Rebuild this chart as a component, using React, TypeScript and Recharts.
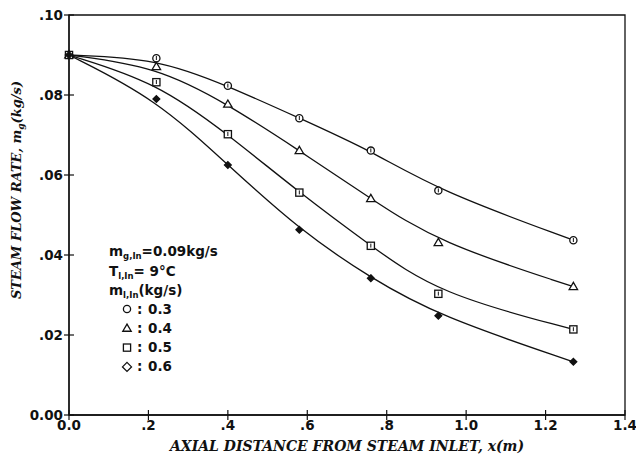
import React from "react";
import { LineChart, Line, XAxis, YAxis, ReferenceArea } from "recharts";

// Axial positions (m) along the condenser, shared by every run
const axialPos = [0, 0.22, 0.4, 0.58, 0.76, 0.93, 1.27];
// Steam flow rate (kg/s) for each liquid inlet flow rate
const steam03 = [0.09, 0.0892, 0.0823, 0.0742, 0.0661, 0.0561, 0.0437];
const steam04 = [0.09, 0.0871, 0.0777, 0.0661, 0.0541, 0.0431, 0.0321];
const steam05 = [0.09, 0.0832, 0.0702, 0.0556, 0.0423, 0.0303, 0.0214];
const steam06 = [0.09, 0.079, 0.0625, 0.0463, 0.0342, 0.0248, 0.0133];

const xTicks = [0, 0.2, 0.4, 0.6, 0.8, 1.0, 1.2, 1.4];
const yTicks = [0, 0.02, 0.04, 0.06, 0.08, 0.1];

const rows = axialPos.map((x, i) => ({
  x,
  s03: steam03[i],
  s04: steam04[i],
  s05: steam05[i],
  s06: steam06[i],
}));

const INK = "#111";
const TICK_FONT = "'DejaVu Sans', sans-serif";
const TITLE_FONT = "'DejaVu Serif', serif";

const fmtX = (v: number) => {
  if (v === 0) return "0.0";
  if (v < 1) return "." + Math.round(v * 10);
  return v.toFixed(1);
};
const fmtY = (v: number) => (v === 0 ? "0.00" : "." + String(Math.round(v * 100)).padStart(2, "0"));

const Y_MARGIN = 6;
const X_MARGIN = 5;

const YTick = (props: any) => {
  const { x, y, payload } = props;
  const ax = x + Y_MARGIN;
  return (
    <g>
      <line x1={ax - 5} x2={ax + 5} y1={y} y2={y} stroke={INK} strokeWidth={1.2} />
      <text x={x} y={y} dy="0.36em" textAnchor="end" fontFamily={TICK_FONT} fontSize={13.5} fontWeight={600} fill={INK}>
        {fmtY(payload.value)}
      </text>
    </g>
  );
};

const XTick = (props: any) => {
  const { x, y, payload } = props;
  const ay = y - X_MARGIN;
  return (
    <g>
      <line x1={x} x2={x} y1={ay - 5} y2={ay + 5} stroke={INK} strokeWidth={1.2} />
      <text x={x} y={y} dy="0.75em" textAnchor="middle" fontFamily={TICK_FONT} fontSize={13.5} fontWeight={600} fill={INK}>
        {fmtX(payload.value)}
      </text>
    </g>
  );
};

type Shape = "circle" | "triangle" | "square" | "diamond";

const Mark = ({ cx, cy, shape, legend }: { cx: number; cy: number; shape: Shape; legend?: boolean }) => {
  const sw = 1.3;
  if (shape === "circle") {
    return (
      <g>
        <circle cx={cx} cy={cy} r={3.6} fill="#fff" stroke={INK} strokeWidth={sw} />
        {!legend && <line x1={cx} x2={cx} y1={cy - 2.2} y2={cy + 1.8} stroke={INK} strokeWidth={1} />}
      </g>
    );
  }
  if (shape === "triangle") {
    const s = 4.2;
    return (
      <polygon
        points={`${cx},${cy - s} ${cx - s},${cy + s * 0.7} ${cx + s},${cy + s * 0.7}`}
        fill="#fff"
        stroke={INK}
        strokeWidth={sw}
      />
    );
  }
  if (shape === "square") {
    const s = 3.6;
    return (
      <g>
        <rect x={cx - s} y={cy - s} width={2 * s} height={2 * s} fill="#fff" stroke={INK} strokeWidth={sw} />
        {!legend && <line x1={cx} x2={cx} y1={cy - 2.2} y2={cy + 1.8} stroke={INK} strokeWidth={1} />}
      </g>
    );
  }
  const s = legend ? 4.5 : 3.4;
  return (
    <polygon
      points={`${cx},${cy - s} ${cx + s},${cy} ${cx},${cy + s} ${cx - s},${cy}`}
      fill={legend ? "#fff" : INK}
      stroke={INK}
      strokeWidth={sw}
    />
  );
};

const dotOf = (shape: Shape) => (p: any) => (
  <Mark key={`${shape}-${p.index}`} cx={p.cx} cy={p.cy} shape={shape} />
);

const series: { key: string; shape: Shape; label: string }[] = [
  { key: "s03", shape: "circle", label: "0.3" },
  { key: "s04", shape: "triangle", label: "0.4" },
  { key: "s05", shape: "square", label: "0.5" },
  { key: "s06", shape: "diamond", label: "0.6" },
];

const legendFont = { fontFamily: TICK_FONT, fontSize: 13.5, fontWeight: 600, fill: INK } as const;

export default function App() {
  return (
    <div style={{ position: "absolute", left: 0, top: 0, width: 636, height: 459, background: "#fff" }}>
      <LineChart width={636} height={459} data={rows} margin={{ top: 15, right: 11, bottom: 0, left: 0 }}>
        <ReferenceArea x1={0} x2={1.4} y1={0} y2={0.1} fill="none" stroke={INK} strokeWidth={1.3} ifOverflow="visible" />
        <XAxis
          dataKey="x"
          type="number"
          domain={[0, 1.4]}
          ticks={xTicks}
          interval={0}
          height={44}
          tickSize={0}
          tickMargin={X_MARGIN}
          tickLine={false}
          axisLine={{ stroke: INK, strokeWidth: 1.3 }}
          tick={<XTick />}
        />
        <YAxis
          type="number"
          domain={[0, 0.1]}
          ticks={yTicks}
          interval={0}
          width={69}
          tickSize={0}
          tickMargin={Y_MARGIN}
          tickLine={false}
          axisLine={{ stroke: INK, strokeWidth: 1.3 }}
          tick={<YTick />}
        />
        {/* smoothed fit curves through the measured points */}
        {series.map((s) => (
          <Line
            key={s.key}
            dataKey={s.key}
            type="basis"
            stroke={INK}
            strokeWidth={1.3}
            dot={dotOf(s.shape)}
            activeDot={false}
            isAnimationActive={false}
          />
        ))}
      </LineChart>
      <svg width={636} height={459} style={{ position: "absolute", left: 0, top: 0, pointerEvents: "none" }}>
        {/* axis titles */}
        <text
          x={0}
          y={0}
          transform="translate(21 190) rotate(-90)"
          textAnchor="middle"
          fontFamily={TITLE_FONT}
          fontStyle="italic"
          fontWeight={600}
          fontSize={13}
          fill={INK}
        >
          STEAM FLOW RATE, m
          <tspan fontSize={9} dy={3}>g</tspan>
          <tspan dy={-3}>(kg/s)</tspan>
        </text>
        <text
          x={347}
          y={451}
          textAnchor="middle"
          fontFamily={TITLE_FONT}
          fontStyle="italic"
          fontWeight={600}
          fontSize={14}
          fill={INK}
        >
          AXIAL DISTANCE FROM STEAM INLET, x(m)
        </text>

        {/* run conditions and symbol key */}
        <text x={109} y={256} {...legendFont}>
          m<tspan fontSize={8.5} dy={3}>g,In</tspan>
          <tspan dy={-3}>=0.09kg/s</tspan>
        </text>
        <text x={109} y={275.5} {...legendFont}>
          T<tspan fontSize={8.5} dy={3}>l,In</tspan>
          <tspan dy={-3}>= 9°C</tspan>
        </text>
        <text x={109} y={295} {...legendFont}>
          m<tspan fontSize={8.5} dy={3}>l,In</tspan>
          <tspan dy={-3}>(kg/s)</tspan>
        </text>
        {series.map((s, i) => {
          const cy = 309 + i * 19.3;
          return (
            <g key={s.key}>
              <Mark cx={127} cy={cy} shape={s.shape} legend />
              <text x={137} y={cy + 4.5} {...legendFont}>:</text>
              <text x={148} y={cy + 4.5} {...legendFont}>{s.label}</text>
            </g>
          );
        })}
      </svg>
    </div>
  );
}
